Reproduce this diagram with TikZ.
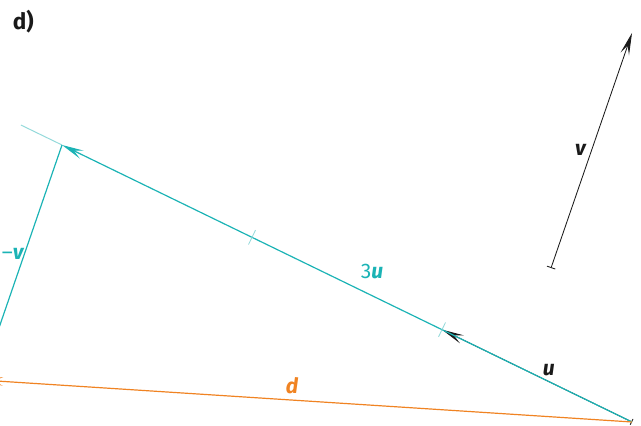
\documentclass[tikz,border=0pt]{standalone}
\usepackage{fontspec}
\setmainfont{Fira Sans}
\usetikzlibrary{arrows.meta,calc}
\definecolor{vecInk}{HTML}{1A1A1A}
\definecolor{vecTeal}{HTML}{1BB3B5}
\definecolor{vecTealLight}{HTML}{93D9DA}
\definecolor{vecOrange}{HTML}{F08322}
\tikzset{
  every node/.style={font=\fontsize{15}{18}\selectfont, text=vecInk, inner sep=1pt},
  tag/.style={font=\fontsize{16}{19}\selectfont\bfseries, text=vecInk},
  vec/.style={
    -{Stealth[length=5.5mm,width=2.2mm,inset=2.2mm]},
    line width=0.6pt,
    draw=vecInk
  },
  tealvec/.style={vec, draw=vecTeal, line width=0.85pt},
  orangevec/.style={vec, draw=vecOrange, line width=0.85pt},
  helper/.style={draw=vecTealLight, line width=0.7pt},
  tick/.style={draw=vecTealLight, line width=0.6pt}
}
\begin{document}
\begin{tikzpicture}[x=1cm,y=1cm]
  \useasboundingbox (0,0) rectangle (16.025,10.625);
  \clip (0,0) rectangle (16.025,10.625);

  \coordinate (O) at (15.8,0.075);
  \coordinate (A) at (1.55,7.0);
  \coordinate (U) at ($(O)!1/3!(A)$);
  \coordinate (T2) at ($(O)!2/3!(A)$);
  \coordinate (Aext) at ($(O)!1.072!(A)$);
  \coordinate (Vt) at (13.775,3.925);
  \coordinate (Vh) at (15.8,9.8);
  \coordinate (D) at ($(A)+(Vt)-(Vh)$);

  \node[tag, anchor=west] (title) at (0.28,10.08) {d)};

  % v on its own
  \draw[vec, {Bar[width=2.2mm]}-{Stealth[length=5.5mm,width=2.2mm,inset=2.2mm]}] (Vt) -- (Vh);
  \node (vlab) at (14.52,6.88) {\textbf{\textit{v}}};

  % 3u, u and the thirds
  \draw[helper] (A) -- (Aext);
  \draw[vec, {Bar[width=1.6mm]}-{Stealth[length=5.5mm,width=2.2mm,inset=2.2mm]}] (O) -- (U);
  \draw[tealvec] (O) -- (A);
  \foreach \p in {U,T2}{
    \draw[tick] ($(\p)!0.2cm!90:(O)$) -- ($(\p)!0.2cm!-90:(O)$);
  }
  \node (ulab) at (13.72,1.38) {\textbf{\textit{u}}};
  \node[text=vecTeal] (tulab) at (9.3,3.83) {3\textbf{\textit{u}}};

  % -v and d
  \draw[tealvec] (A) -- (D);
  \node[text=vecTeal] (mvlab) at (0.33,4.28) {\textendash\textbf{\textit{v}}};
  \draw[orangevec] (O) -- (D);
  \node[text=vecOrange] (dlab) at (7.3,0.98) {\textbf{\textit{d}}};
\end{tikzpicture}
\end{document}
